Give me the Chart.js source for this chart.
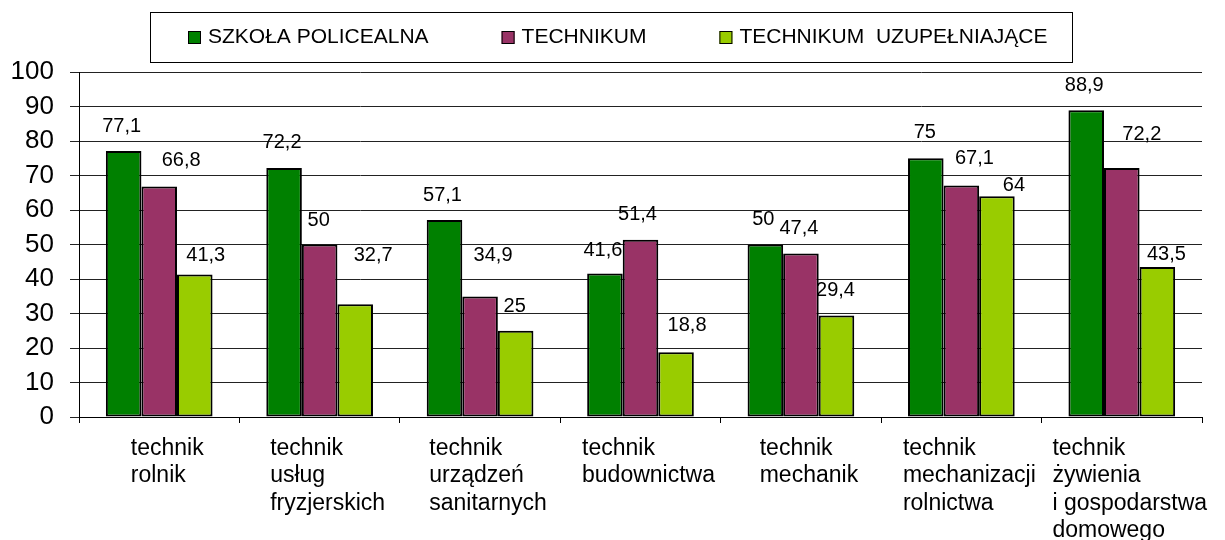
<!DOCTYPE html>
<html>
<head>
<meta charset="utf-8">
<script src="https://cdn.jsdelivr.net/npm/chart.js@4/dist/chart.umd.min.js"></script>
<style>
  body { margin: 0; background: #fff; }
</style>
</head>
<body>
<canvas id="chart" width="1225" height="540"></canvas>
<script>
'use strict';

const categories = [
  ['technik', 'rolnik'],
  ['technik', 'usług', 'fryzjerskich'],
  ['technik', 'urządzeń', 'sanitarnych'],
  ['technik', 'budownictwa'],
  ['technik', 'mechanik'],
  ['technik', 'mechanizacji', 'rolnictwa'],
  ['technik', 'żywienia', 'i gospodarstwa', 'domowego']
];

const seriesNames = ['SZKOŁA POLICEALNA', 'TECHNIKUM', 'TECHNIKUM  UZUPEŁNIAJĄCE'];

const policealna = [77.1, 72.2, 57.1, 41.6, 50, 75, 88.9];
const technikum = [66.8, 50, 34.9, 51.4, 47.4, 67.1, 72.2];
const uzupelniajace = [41.3, 32.7, 25, 18.8, 29.4, 64, 43.5];

const yTicks = [0, 10, 20, 30, 40, 50, 60, 70, 80, 90, 100];

const colors = ['#008000', '#993366', '#99cc00'];

// value labels were moved by hand in the original, so nudge some of them
const labelNudge = [
  [[0, 0], [0, 0], [0, 0], [0, 2], [0, 0], [1, -1], [0, 0]],
  [[24, -1], [1, 1], [15, -16], [-1, 0], [0, 0], [15, -2], [22, -8]],
  [[13, 6], [20, -24], [1, 1], [13, -2], [1, 0], [19, 14], [11, 13]]
];

const FONT = 'Arial, "Liberation Sans", sans-serif';

let allValues = [policealna, technikum, uzupelniajace];

let datasets = [];
for (let i = 0; i < allValues.length; i++) {
  datasets.push({
    label: seriesNames[i],
    data: allValues[i],
    backgroundColor: colors[i],
    borderColor: '#000',
    borderWidth: 2,
    borderSkipped: false
  });
}

function formatValue(v) {
  return String(v).replace('.', ',');
}

const canvas = document.getElementById('chart');
const ctx = canvas.getContext('2d');

// half of the widest line, so the left aligned block sits centred
function halfBlockWidth(index) {
  let lines = categories[index];
  if (!lines) return 0;
  ctx.save();
  ctx.font = '23px ' + FONT;
  let w = 0;
  lines.forEach((l) => { w = Math.max(w, ctx.measureText(l).width); });
  ctx.restore();
  return w / 2;
}

// shift each left aligned category label back by half its width
const centreBlocks = {
  id: 'centreBlocks',
  beforeDraw(chart) {
    let items = chart.scales.x.getLabelItems();
    items.forEach((item, i) => {
      if (item._shifted) return;
      item.options.translation[0] -= halfBlockWidth(i);
      item._shifted = true;
    });
  }
};

// labels above the bars
const valueLabels = {
  id: 'valueLabels',
  afterDatasetsDraw(chart) {
    const c = chart.ctx;
    c.save();
    c.font = '20px ' + FONT;
    c.fillStyle = '#000';
    c.textAlign = 'center';
    c.textBaseline = 'middle';
    chart.data.datasets.forEach((ds, i) => {
      let meta = chart.getDatasetMeta(i);
      meta.data.forEach((bar, j) => {
        let n = labelNudge[i][j];
        c.fillText(formatValue(ds.data[j]), bar.x - 2 + n[0], bar.y - 25 + n[1]);
      });
    });
    c.restore();
  }
};

// boxed legend at the top
const boxLegend = {
  id: 'boxLegend',
  afterDraw(chart) {
    const c = chart.ctx;
    c.save();
    c.strokeStyle = '#000';
    c.lineWidth = 1;
    c.strokeRect(150.5, 12.5, 922, 50);
    c.font = '21px ' + FONT;
    c.textBaseline = 'middle';
    c.textAlign = 'left';
    let x = 188;
    chart.data.datasets.forEach((ds) => {
      c.fillStyle = ds.backgroundColor;
      c.fillRect(x, 31, 13, 13);
      c.strokeRect(x + 0.5, 31.5, 12, 12);
      c.fillStyle = '#000';
      c.fillText(ds.label, x + 20, 37);
      x += 20 + c.measureText(ds.label).width + 73;
    });
    c.restore();
  }
};

const myChart = new Chart(ctx, {
  type: 'bar',
  data: {
    labels: categories,
    datasets: datasets
  },
  options: {
    responsive: false,
    animation: false,
    devicePixelRatio: 1,
    layout: {
      padding: { left: 0, top: 72, right: 23, bottom: 0 }
    },
    datasets: {
      bar: {
        barPercentage: 1,
        categoryPercentage: 0.665
      }
    },
    plugins: {
      legend: { display: false },
      tooltip: { enabled: false }
    },
    scales: {
      x: {
        grid: {
          display: true,
          drawOnChartArea: false,
          drawTicks: true,
          tickLength: 6,
          color: '#000',
          offset: true
        },
        border: { display: true, color: '#000', width: 1 },
        ticks: {
          color: '#000',
          font: { family: FONT, size: 23, lineHeight: 1.187 },
          padding: 12,
          maxRotation: 0,
          autoSkip: false,
          align: 'start',
          labelOffset: 8
        },
        afterFit(scale) {
          scale.height = 123;
          scale.paddingLeft = 0;
          scale.paddingRight = 0;
        }
      },
      y: {
        min: yTicks[0],
        max: yTicks[yTicks.length - 1],
        grid: {
          color: '#222',
          lineWidth: 1,
          drawTicks: true,
          tickLength: 9
        },
        border: { display: true, color: '#000', width: 1 },
        ticks: {
          stepSize: yTicks[1] - yTicks[0],
          color: '#000',
          font: { family: FONT, size: 26 },
          padding: 16
        },
        afterFit(scale) {
          scale.width = 79;
        }
      }
    }
  },
  plugins: [centreBlocks, valueLabels, boxLegend]
});
</script>
</body>
</html>
